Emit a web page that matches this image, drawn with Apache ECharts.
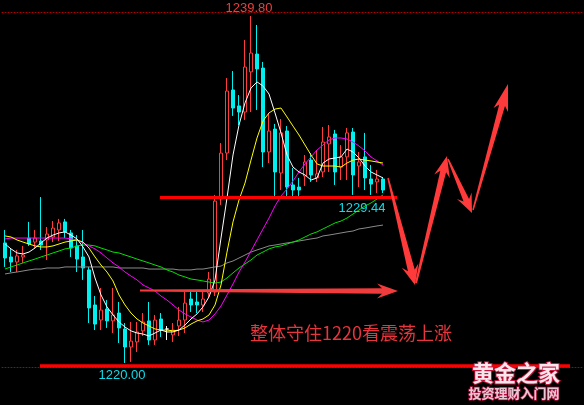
<!DOCTYPE html>
<html><head><meta charset="utf-8">
<style>html,body{margin:0;padding:0;background:#000;}#c{width:584px;height:405px;}</style>
<script src="https://cdn.jsdelivr.net/npm/echarts@6.0.0/dist/echarts.min.js"></script>
</head><body><div id="c"></div>
<script>
// ---- data ----
const slotCount = 97; // visible bar slots (chart leaves empty space on the right)
const categories = Array.from({length: slotCount}, (_, i) => 'K' + (i + 1));

const open = [1226.85,1226.05,1225.76,1226.05,1227.13,1226.90,1226.96,1227.02,1227.19,1227.59,
1228.05,1227.42,1226.68,1226.05,1225.31,1223.31,1222.45,1223.08,1222.40,1222.85,
1221.94,1220.91,1221.20,1221.83,1222.40,1221.31,1222.51,1221.94,1221.60,1222.11,
1222.45,1223.65,1223.48,1223.31,1223.99,1224.05,1229.36,1231.98,1235.58,1234.67,
1234.32,1236.61,1237.63,1236.83,1232.04,1233.35,1230.84,1233.24,1230.16,1230.04,
1230.67,1231.58,1230.56,1230.90,1232.50,1233.07,1231.18,1231.76,1233.18,1231.24,
1231.76,1230.50,1230.33,1230.50];
const close = [1225.99,1225.76,1226.11,1226.16,1226.79,1227.13,1226.73,1227.36,1227.70,1227.99,
1227.48,1226.56,1225.93,1225.42,1223.14,1222.22,1223.02,1222.40,1222.74,1222.00,
1220.91,1221.25,1221.77,1222.34,1221.31,1222.45,1221.88,1221.94,1221.88,1222.45,
1223.42,1223.31,1223.31,1223.65,1224.79,1229.24,1231.98,1235.52,1234.55,1234.32,
1236.89,1237.69,1236.78,1232.04,1233.24,1230.90,1233.13,1230.04,1229.87,1229.87,
1231.47,1230.73,1230.79,1232.61,1232.90,1230.90,1231.76,1233.13,1230.73,1231.47,
1230.56,1230.21,1230.50,1229.87];
const low = [1225.48,1225.19,1225.19,1225.71,1226.68,1226.56,1226.45,1225.88,1226.90,1226.96,
1227.13,1226.05,1225.19,1224.74,1222.28,1221.88,1221.88,1222.00,1221.71,1221.14,
1220.00,1220.06,1220.63,1221.54,1221.03,1221.03,1221.48,1221.31,1221.20,1221.54,
1221.71,1222.91,1222.85,1222.91,1223.71,1223.82,1229.02,1231.58,1234.10,1233.58,
1233.87,1234.32,1234.44,1231.18,1231.41,1229.46,1229.87,1229.53,1229.44,1229.53,
1230.10,1230.33,1230.33,1230.61,1230.90,1230.16,1230.44,1230.44,1229.59,1230.04,
1229.87,1229.59,1229.70,1229.70];
const high = [1227.59,1226.56,1226.45,1226.68,1228.05,1227.59,1229.47,1227.76,1228.10,1228.22,
1228.22,1227.59,1227.30,1227.59,1225.48,1223.82,1224.28,1223.59,1224.28,1223.48,
1222.28,1222.34,1222.34,1222.85,1223.48,1222.74,1222.85,1222.11,1222.28,1223.20,
1224.05,1224.17,1224.05,1224.11,1225.19,1229.59,1232.55,1236.26,1236.66,1235.29,
1238.43,1239.80,1239.29,1237.18,1234.27,1233.64,1233.92,1233.52,1231.13,1230.56,
1231.87,1231.98,1232.15,1233.47,1233.58,1233.30,1232.44,1233.41,1233.41,1232.04,
1233.13,1231.30,1231.01,1230.61];

const ma5 = [1226.79,1226.51,1226.28,1226.22,1226.33,1226.56,1226.85,1227.13,1227.30,1227.42,
1227.48,1227.30,1227.08,1226.62,1226.05,1224.85,1223.88,1223.20,1222.74,1222.34,
1222.05,1221.83,1221.71,1221.65,1221.54,1221.71,1221.88,1221.77,1221.77,1221.88,
1222.17,1222.51,1222.80,1223.20,1223.77,1224.74,1227.13,1229.42,1231.87,1233.58,
1234.84,1235.69,1236.04,1235.81,1235.35,1234.27,1233.13,1231.87,1231.18,1230.90,
1230.73,1230.44,1230.56,1231.41,1231.64,1231.70,1231.76,1232.21,1232.04,1231.70,
1231.24,1230.90,1230.73,1230.56];
const ma10 = [1227.25,1227.19,1227.02,1226.90,1226.79,1226.68,1226.62,1226.62,1226.68,1226.79,
1226.90,1226.96,1227.02,1226.90,1226.56,1226.05,1225.59,1225.19,1224.68,1223.88,
1223.31,1222.85,1222.51,1222.28,1222.11,1221.94,1221.88,1221.88,1221.83,1221.88,
1222.00,1222.22,1222.40,1222.51,1222.74,1223.31,1224.45,1226.33,1228.05,1229.30,
1230.27,1231.58,1232.84,1233.81,1234.27,1234.49,1234.55,1234.04,1233.52,1233.01,
1232.44,1231.87,1231.36,1231.24,1231.24,1231.24,1231.18,1231.41,1231.58,1231.64,
1231.58,1231.53,1231.47,1231.41];
const ma20 = [1227.08,1227.13,1227.13,1227.13,1227.13,1227.13,1227.13,1227.13,1227.13,1227.13,
1227.13,1227.08,1227.02,1226.85,1226.68,1226.51,1226.28,1225.99,1225.71,1225.48,
1225.19,1224.96,1224.74,1224.45,1224.28,1224.11,1223.82,1223.59,1223.31,1223.02,
1222.80,1222.62,1222.45,1222.34,1222.45,1222.80,1223.25,1223.88,1224.51,1225.19,
1225.76,1226.39,1227.02,1227.65,1228.27,1228.96,1229.53,1229.93,1230.39,1230.90,
1231.36,1231.76,1232.15,1232.44,1232.73,1232.84,1232.84,1232.78,1232.61,1232.38,
1232.10,1231.76,1231.53,1231.30];
const ma40 = [1225.36,1225.48,1225.59,1225.71,1225.82,1225.93,1226.05,1226.16,1226.28,1226.39,
1226.51,1226.56,1226.68,1226.73,1226.73,1226.68,1226.56,1226.45,1226.33,1226.28,
1226.16,1226.05,1225.93,1225.82,1225.71,1225.59,1225.48,1225.31,1225.19,1225.02,
1224.91,1224.79,1224.74,1224.68,1224.62,1224.56,1224.62,1224.85,1225.14,1225.42,
1225.65,1225.88,1226.16,1226.33,1226.51,1226.62,1226.68,1226.79,1226.90,1227.02,
1227.19,1227.36,1227.48,1227.65,1227.82,1227.99,1228.10,1228.27,1228.50,1228.73,
1228.96,1229.13,1229.36,1229.59];
const ma60 = [1225.08,1225.14,1225.19,1225.25,1225.31,1225.36,1225.36,1225.42,1225.42,1225.42,
1225.48,1225.48,1225.48,1225.48,1225.48,1225.48,1225.48,1225.48,1225.48,1225.42,
1225.42,1225.42,1225.42,1225.42,1225.36,1225.36,1225.36,1225.36,1225.36,1225.31,
1225.31,1225.31,1225.36,1225.36,1225.42,1225.48,1225.53,1225.71,1225.82,1225.99,
1226.16,1226.33,1226.45,1226.56,1226.68,1226.73,1226.79,1226.85,1226.90,1226.96,
1227.02,1227.08,1227.13,1227.25,1227.30,1227.36,1227.42,1227.48,1227.53,1227.65,
1227.70,1227.76,1227.82,1227.87];

const priceMin = 1219.77, priceMax = 1240.03;
const supportLabel = '1229.44';
const noteText = '整体守住1220看震荡上涨';

// ---- chart ----
const chart = echarts.init(document.getElementById('c'), null, {renderer: 'canvas'});
const kData = open.map((o, i) => [o, close[i], low[i], high[i]]);
const UP = '#ff3c3c', DOWN = '#00f0f0';

function maSeries(name, data, color) {
  return {name, type: 'line', data, symbol: 'none', smooth: false, silent: true,
    lineStyle: {color, width: 1}, z: 3};
}
const borderAxis = pos => ({type: 'category', data: categories, boundaryGap: true, position: pos,
  axisLine: {show: true, lineStyle: {color: '#b00000', type: [1, 2], width: 1}},
  axisTick: {show: false}, axisLabel: {show: false}, splitLine: {show: false}});

chart.setOption({
  backgroundColor: '#000',
  animation: false,
  grid: {left: 2, right: 0, top: 12, bottom: 38},
  xAxis: [borderAxis('bottom'), borderAxis('top')],
  yAxis: {type: 'value', min: priceMin, max: priceMax, scale: true,
    axisLine: {show: false}, axisTick: {show: false}, axisLabel: {show: false}, splitLine: {show: false}},
  series: [
    {type: 'candlestick', data: kData, barWidth: 4, z: 2,
      itemStyle: {color: '#000', color0: DOWN, borderColor: UP, borderColor0: DOWN,
        borderColorDoji: '#ffffff', borderWidth: 1},
      markPoint: {
        symbol: 'circle', symbolSize: 0, silent: true,
        label: {show: true, fontSize: 13, fontFamily: 'Liberation Sans',
          formatter: p => Number(p.value).toFixed(2)},
        data: [
          {type: 'max', valueDim: 'highest',
            label: {position: 'top', distance: 1, color: '#e8403c', offset: [-2, 0]}},
          {type: 'min', valueDim: 'lowest',
            label: {position: 'bottom', distance: 6, color: '#10dce8', offset: [-3, 0]}}
        ]
      }
    },
    maSeries('MA60', ma60, '#8a8a8a'),
    maSeries('MA40', ma40, '#00e000'),
    maSeries('MA20', ma20, '#ff00ff'),
    maSeries('MA10', ma10, '#ffff00'),
    maSeries('MA5', ma5, '#ffffff')
  ]
});

// ---- hand-drawn annotations ----
function arrow(x1, y1, x2, y2, w1, w2, hl, hw) {
  const dx = x2 - x1, dy = y2 - y1, L = Math.hypot(dx, dy);
  const ux = dx / L, uy = dy / L, nx = -uy, ny = ux;
  const bx = x2 - ux * hl, by = y2 - uy * hl;
  const sb = 3; // swept-back barbs
  return [
    [x1 + nx * w1 / 2, y1 + ny * w1 / 2],
    [bx + nx * w2 / 2 + ux * 2, by + ny * w2 / 2 + uy * 2],
    [bx + nx * hw / 2 - ux * sb, by + ny * hw / 2 - uy * sb],
    [x2, y2],
    [bx - nx * hw / 2 - ux * sb, by - ny * hw / 2 - uy * sb],
    [bx - nx * w2 / 2 + ux * 2, by - ny * w2 / 2 + uy * 2],
    [x1 - nx * w1 / 2, y1 - ny * w1 / 2]
  ];
}
const yOf = v => chart.convertToPixel({yAxisIndex: 0}, v);
const ySupport = yOf(1229.44);
const ARW = '#ff3a3a';

chart.setOption({
  graphic: [
    {type: 'line', z: 100, shape: {x1: 160, y1: ySupport, x2: 397, y2: ySupport},
      style: {stroke: '#ff0000', lineWidth: 3}},
    {type: 'line', z: 100, shape: {x1: 40, y1: 366, x2: 570, y2: 366},
      style: {stroke: '#ff0000', lineWidth: 3.5}},
    {type: 'polygon', z: 100, shape: {points: arrow(140, 290.5, 398, 291, 2, 5.5, 18, 15)}, style: {fill: '#f03c3c'}},
    {type: 'polygon', z: 100, shape: {points: arrow(388, 178, 415, 285, 1.5, 7, 17, 17)}, style: {fill: ARW}},
    {type: 'polygon', z: 100, shape: {points: arrow(416, 283, 447, 156, 2, 6, 18, 16)}, style: {fill: ARW}},
    {type: 'polygon', z: 100, shape: {points: arrow(448, 159, 472, 213, 1.5, 6, 16, 16)}, style: {fill: ARW}},
    {type: 'polygon', z: 100, shape: {points: arrow(473, 210, 508, 84, 1.5, 6, 24, 15)}, style: {fill: ARW}},
    {type: 'text', z: 101, x: 362, y: ySupport + 10.5,
      style: {text: supportLabel, fill: '#10dce8', font: '13px "Liberation Sans"',
        textAlign: 'center', textVerticalAlign: 'middle', align: 'center', verticalAlign: 'middle'}},
    {type: 'text', z: 101, x: 250, y: 333,
      style: {text: noteText, fill: '#e8343c', font: '18px "Noto Sans CJK SC"',
        textAlign: 'left', textVerticalAlign: 'middle', align: 'left', verticalAlign: 'middle'}},
    {type: 'text', z: 102, x: 516, y: 373,
      style: {text: '黄金之家', fill: '#f8e6ec', stroke: '#c4143c', lineWidth: 2,
        font: 'bold 22px "Noto Sans CJK SC"',
        textAlign: 'center', textVerticalAlign: 'middle', align: 'center', verticalAlign: 'middle'}},
    {type: 'text', z: 102, x: 514, y: 393.5,
      style: {text: '投资理财入门网', fill: '#e8c8d2', stroke: '#b01040', lineWidth: 1.5,
        font: 'bold 13px "Noto Sans CJK SC"',
        textAlign: 'center', textVerticalAlign: 'middle', align: 'center', verticalAlign: 'middle'}}
  ]
});
</script>
</body></html>
